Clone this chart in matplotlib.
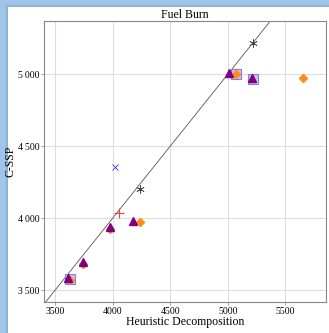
import matplotlib
matplotlib.use("Agg")
import matplotlib.pyplot as plt
from matplotlib.patches import Rectangle
from matplotlib.ticker import FuncFormatter

# Heuristic Decomposition (x) vs C-SSP (y), per method
tri_x = [3616, 3740, 3977, 4180, 5013, 5213]
tri_y = [3583, 3694, 3937, 3983, 5007, 4975]
dia_x = [3635, 3744, 3982, 4238, 5071, 5650]
dia_y = [3573, 3686, 3928, 3977, 5002, 4972]
sq_x = [3630, 5071, 5217]
sq_y = [3576, 5002, 4966]
ast_x = [4238, 5221]
ast_y = [4203, 5215]
cross_x = [4021]
cross_y = [4354]
plus_x = [4058]
plus_y = [4035]
diag = [3300, 5500]

plt.rcParams["font.family"] = ["Liberation Serif", "DejaVu Serif"]

fig = plt.figure(figsize=(3.29, 3.33), dpi=100)
fig.patch.set_facecolor("#9fc5e8")
# drop shadow behind the white page
for i, a in enumerate([0.05, 0.08, 0.12]):
    fig.patches.append(Rectangle(((5 + i) / 329, 0), 1, 1 - (4 + i) / 333,
                                 transform=fig.transFigure, facecolor="#3d6a96",
                                 alpha=a, edgecolor="none", zorder=0))
fig.patches.append(Rectangle((8 / 329, 0), 1, 1 - 7 / 333, transform=fig.transFigure,
                             facecolor="white", edgecolor="none", zorder=1))

ax = fig.add_axes([44 / 329, 1 - 302 / 333, 282 / 329, 281.3 / 333])
ax.set_zorder(2)

ax.plot(diag, diag, color="#555555", lw=0.6, zorder=2)
ax.plot(sq_x, sq_y, ls="none", marker="s", ms=7, mfc="#c9c2ec", mec="#8a80d8",
        mew=0.8, zorder=3)
ax.plot(dia_x, dia_y, ls="none", marker="D", ms=4.2, color="#ff8c1a", zorder=4)
ax.plot(tri_x, tri_y, ls="none", marker="^", ms=5.5, color="#800080", zorder=5)
ax.plot(ast_x, ast_y, ls="none", marker=(6, 2, 0), ms=6, color="#444444", mew=0.5, zorder=5)
ax.plot(cross_x, cross_y, ls="none", marker="x", ms=5, color="#3333ff", mew=0.6, zorder=5)
ax.plot(plus_x, plus_y, ls="none", marker="+", ms=7, color="#ff3b3b", mew=0.8, zorder=6)

ax.set_xlim(3405, 5853)
ax.set_ylim(3419, 5372)
ax.set_xticks([3500, 4000, 4500, 5000, 5500])
ax.set_yticks([3500, 4000, 4500, 5000])
ax.yaxis.set_major_formatter(FuncFormatter(lambda v, p: f"{int(v):,}".replace(",", "\u2009")))
ax.grid(True, color="#dddddd", lw=0.8)
ax.set_axisbelow(True)
for s in ax.spines.values():
    s.set_color("#888888")
    s.set_linewidth(0.8)
ax.tick_params(labelsize=7, length=2, width=0.6, color="#888888", pad=1.5)

ax.set_title("Fuel Burn", fontsize=8.5, pad=2)
ax.set_xlabel("Heuristic Decomposition", fontsize=8.5, labelpad=0)
ax.set_ylabel("C-SSP", fontsize=8.5)
ax.yaxis.set_label_coords(-27 / 282, 0.5)

fig.savefig("out.png", dpi=100, facecolor=fig.get_facecolor())
